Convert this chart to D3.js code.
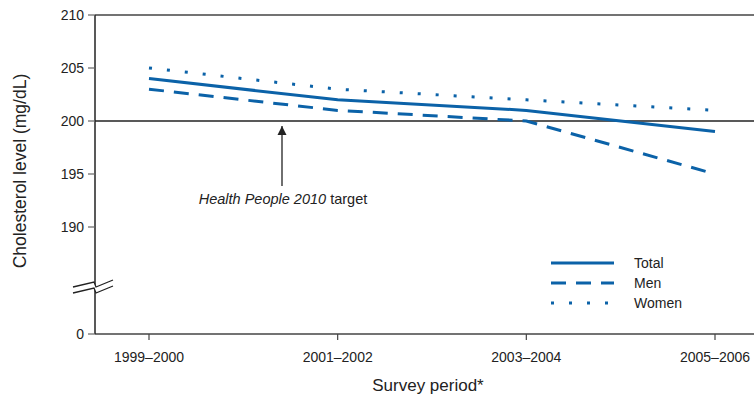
<!DOCTYPE html>
<html>
<head>
<meta charset="utf-8">
<script src="https://cdn.jsdelivr.net/npm/d3@7"></script>
<style>
  body { margin: 0; background: #fff; }
  text { font-family: "Liberation Sans", Arial, sans-serif; fill: #222; }
</style>
</head>
<body>
<div id="plot"></div>
<script>
// data
var periods = ["1999–2000", "2001–2002", "2003–2004", "2005–2006"];
var total = [204, 202, 201, 199];
var men = [203, 201, 200, 195];
var women = [205, 203, 202, 201];
var yTicks = [0, 190, 195, 200, 205, 210];
var target = 200;

var width = 754, height = 400;
var blue = "#0b62a8";

var svg = d3.select("div#plot")
  .append("svg")
    .attr("width", width)
    .attr("height", height);

// scales (y axis is broken between 0 and 190)
var x = d3.scalePoint().domain(periods).range([149, 715]);
var y = d3.scaleLinear().domain([0, 186, 210]).range([334, 269.4, 15]);

var left = 95, right = 760;

// frame
svg.append("line").attr("x1", left).attr("x2", right).attr("y1", y(210)).attr("y2", y(210))
  .attr("stroke", "#444").attr("stroke-width", 1.5);
svg.append("line").attr("x1", left).attr("x2", right).attr("y1", y(0)).attr("y2", y(0))
  .attr("stroke", "#444").attr("stroke-width", 1.5);
svg.append("line").attr("x1", left).attr("x2", left).attr("y1", y(210)).attr("y2", y(0))
  .attr("stroke", "#222").attr("stroke-width", 1.5);

// y ticks
svg.append("g").selectAll("line").data(yTicks).enter().append("line")
  .attr("x1", left - 7).attr("x2", left)
  .attr("y1", d => y(d)).attr("y2", d => y(d))
  .attr("stroke", "#666").attr("stroke-width", 1.2);
svg.append("g").selectAll("text").data(yTicks).enter().append("text")
  .attr("x", left - 11).attr("y", d => y(d)).attr("dy", "0.36em")
  .attr("text-anchor", "end").attr("font-size", 14)
  .text(d => d);

// x ticks
svg.append("g").selectAll("line").data(periods).enter().append("line")
  .attr("x1", d => x(d)).attr("x2", d => x(d))
  .attr("y1", y(0)).attr("y2", y(0) + 6)
  .attr("stroke", "#444").attr("stroke-width", 1.2);
svg.append("g").selectAll("text").data(periods).enter().append("text")
  .attr("x", d => x(d)).attr("y", 362)
  .attr("text-anchor", "middle").attr("font-size", 14)
  .text(d => d);

// axis break (zigzag)
var bk = svg.append("g");
bk.append("polygon").attr("points", "73,287 94,282 96,287 113,280 113,286 96,293 94,288 73,293").attr("fill", "#fff");
bk.append("polyline").attr("points", "73,287 94,282 96,287 113,280")
  .attr("fill", "none").attr("stroke", "#222").attr("stroke-width", 1.3);
bk.append("polyline").attr("points", "73,293 94,288 96,293 113,286")
  .attr("fill", "none").attr("stroke", "#222").attr("stroke-width", 1.3);

// target line
svg.append("line").attr("x1", left).attr("x2", right).attr("y1", y(target)).attr("y2", y(target))
  .attr("stroke", "#222").attr("stroke-width", 1.5);

// series
var series = [
  {name: "Total", values: total, dash: null},
  {name: "Men", values: men, dash: "15,10"},
  {name: "Women", values: women, dash: "3,15"}
];
var line = d3.line().x((d, i) => x(periods[i])).y(d => y(d));
svg.append("g").selectAll("path").data(series).enter().append("path")
  .attr("d", d => line(d.values))
  .attr("fill", "none")
  .attr("stroke", blue)
  .attr("stroke-width", 3)
  .attr("stroke-dasharray", d => d.dash);

// annotation arrow
svg.append("defs").append("marker")
  .attr("id", "arr").attr("viewBox", "0 0 10 10")
  .attr("refX", 10).attr("refY", 5)
  .attr("markerWidth", 9).attr("markerHeight", 10)
  .attr("markerUnits", "userSpaceOnUse")
  .attr("orient", "auto")
  .append("path").attr("d", "M0,0 L10,5 L0,10 z").attr("fill", "#222");
svg.append("line").attr("x1", 282).attr("x2", 282).attr("y1", 186).attr("y2", 126)
  .attr("stroke", "#222").attr("stroke-width", 1.3).attr("marker-end", "url(#arr)");
var ann = svg.append("text").attr("x", 283).attr("y", 204).attr("text-anchor", "middle").attr("font-size", 14.5);
ann.append("tspan").attr("font-style", "italic").text("Health People 2010");
ann.append("tspan").text(" target");

// legend
var lg = svg.append("g").selectAll("g").data(series).enter().append("g")
  .attr("transform", (d, i) => "translate(551," + (263 + i * 20) + ")");
lg.append("line").attr("x1", 0).attr("x2", 63)
  .attr("stroke", blue).attr("stroke-width", 3)
  .attr("stroke-dasharray", d => d.dash);
lg.append("text").attr("x", 83).attr("dy", "0.36em").attr("font-size", 14).text(d => d.name);

// axis labels
svg.append("text")
  .attr("transform", "translate(26,171) rotate(-90)")
  .attr("text-anchor", "middle").attr("font-size", 17.5)
  .text("Cholesterol level (mg/dL)");
svg.append("text").attr("x", 428).attr("y", 391)
  .attr("text-anchor", "middle").attr("font-size", 17)
  .text("Survey period*");
</script>
</body>
</html>
